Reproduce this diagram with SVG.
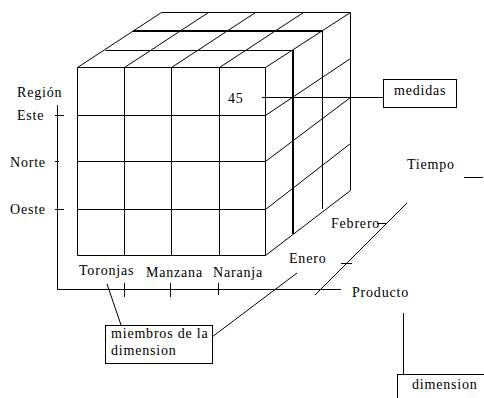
<svg xmlns="http://www.w3.org/2000/svg" width="484" height="398" viewBox="0 0 484 398">
<style>
.l{stroke:#000;stroke-width:1;fill:none}
.b{stroke:#000;stroke-width:2;fill:none}
.t{font-family:"Liberation Serif","Times New Roman",serif;font-size:14px;letter-spacing:0.8px;fill:#000}
</style>
<rect width="484" height="398" fill="#fff"/>
<g id="cube">
<!-- front face -->
<path class="l" d="M77.5 67.5H265.5V255.5H77.5Z M124.5 67.5V255.5 M171.5 67.5V255.5 M219.5 67.5V255.5 M77.5 115.5H265.5 M77.5 161.5H265.5 M77.5 209.5H265.5"/>
<!-- top face -->
<path class="l" d="M161.5 12.5H350.5 M105.5 50.5H293.5 M77.5 67.5L161.5 12.5 M124.5 67.5L208.5 12.5 M171.5 67.5L255.5 12.5 M219.5 67.5L303.5 12.5 M265.5 67.5L350.5 12.5"/>
<path class="b" d="M133 31H322"/>
<!-- right face -->
<path class="l" d="M350.5 12.5V190.5 M322.5 31V209 M265.5 115.5L350.5 58.5 M265.5 161.5L350.5 97.5 M265.5 209.5L350.5 143.5 M265.5 255.5L350.5 190.5"/>
<path class="b" d="M293 50V234"/>
<text class="t" x="228" y="103">45</text>
</g>
<g id="region-axis">
<path class="l" d="M57.5 105V289.5H341 M55 115.5H64 M55 161.5H59 M55 209.5H64 M124.5 283V297 M170.5 283V297 M218.5 283V295"/>
<text class="t" x="17" y="97">Región</text>
<text class="t" x="17" y="120">Este</text>
<text class="t" x="10" y="167">Norte</text>
<text class="t" x="10" y="214">Oeste</text>
<text class="t" x="79" y="275">Toronjas</text>
<text class="t" x="146" y="277">Manzana</text>
<text class="t" x="213" y="277">Naranja</text>
<text class="t" x="352" y="297">Producto</text>
</g>
<g id="tiempo-axis">
<path class="l" d="M315 295L407 203 M341 263.5H352 M377 223.5H386"/>
<text class="t" x="289" y="263">Enero</text>
<text class="t" x="331" y="228">Febrero</text>
<text class="t" x="407" y="169">Tiempo</text>
<path class="l" d="M464 177.5H483"/>
</g>
<g id="medidas">
<rect class="l" x="383.5" y="79.5" width="73" height="28"/>
<text class="t" x="394" y="95">medidas</text>
</g>
<g id="miembros">
<rect class="l" x="105.5" y="325.5" width="107" height="38"/>
<text class="t" x="111" y="338">miembros de la</text>
<text class="t" x="111" y="355">dimension</text>
</g>
<g id="dimension">
<rect class="l" x="397.5" y="374.5" width="100" height="40"/>
<text class="t" x="412" y="389">dimension</text>
</g>
<g id="connectors">
<path class="l" d="M262 97.5H383 M107 284L121 325 M212 337L297 273 M403.5 313V374"/>
</g>
</svg>
